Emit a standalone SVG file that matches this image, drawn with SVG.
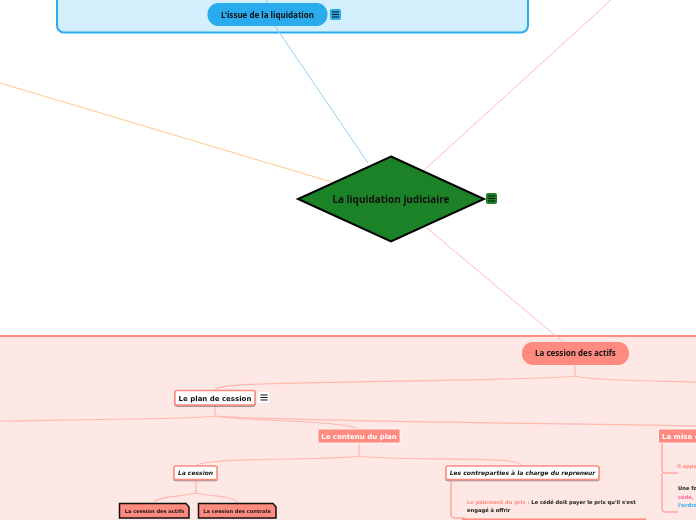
<svg xmlns="http://www.w3.org/2000/svg" width="696" height="520" viewBox="0 0 696 520">
<style>
text{font-family:"DejaVu Sans","Liberation Sans",sans-serif;font-weight:700;fill:#111;opacity:.99}
.n{font-family:"Noto Sans","DejaVu Sans",sans-serif}
.c{fill:none;stroke:#ffb9b0;stroke-width:1.2}
.m{text-anchor:middle}
.w{fill:#fff;stroke:#ff8a80;stroke-width:1.5}
.s{fill:#ff8a80;stroke:#fff;stroke-width:.8}
.t{fill:#ff8a80;stroke:#111;stroke-width:1.5}
</style>
<defs>
<filter id="sh" x="-10%" y="-20%" width="120%" height="150%"><feDropShadow dx="0" dy="1" stdDeviation=".7" flood-color="#000" flood-opacity=".45"/></filter>
<g id="bars"><path d="M-3.500-2.500h7M-3.500 0h7M-3.500 2.500h7" stroke="#111" stroke-width="1" fill="none"/></g>
</defs>
<rect id="frame-top" x="57" y="-40" width="471" height="72.500" rx="7" fill="#d4effc" stroke="#29abee" stroke-width="2"/>
<rect id="frame-bottom" x="-10" y="336" width="716" height="200" fill="#fee8e5" stroke="#ff8a80" stroke-width="2"/>
<g id="connectors">
<path d="M267 0V3" fill="none" stroke="#7fcdf5"/>
<path d="M275 26L368 163" fill="none" stroke="#8fd4f6"/>
<path d="M0 83L335 183" fill="none" stroke="#ffc98a"/>
<path d="M611 0L422 172" fill="none" stroke="#ffb8c6"/>
<path d="M427 228L563 342" fill="none" stroke="#ffb8c6"/>
<path class="c" d="M575 365V376C560 380 300 382 260 384C235 385 217 386 215 390"/>
<path class="c" d="M575 376C590 381 660 381 696 382"/>
<path class="c" d="M215 405V416C200 419 60 420 0 421"/>
<path class="c" d="M215 416C235 421 340 420 359 429"/>
<path class="c" d="M215 416C300 422 560 423 696 426"/>
<path class="c" d="M359 443V456C340 460 240 458 212 462C202 463 197 464 196 466"/>
<path class="c" d="M359 456C380 460 480 458 510 461C518 462 521 464 522 466"/>
<path class="c" d="M196 481V493C180 497 160 496 154 502"/>
<path class="c" d="M196 493C215 497 232 496 237 502"/>
<path d="M451 481V515Q451 518 454 518H465" fill="none" stroke="#ff8a80"/>
<path d="M662 443V470Q662 473 665 473H678M662 473V509Q662 512 665 512H678" fill="none" stroke="#ff8a80"/>
</g>
<g id="issue"><rect x="207.500" y="3" width="120" height="23" rx="11" fill="#29abee"/><text class="m n" x="267.500" y="18" font-size="8">L'issue de la liquidation</text></g>
<g id="issue-note"><rect x="330" y="9" width="11" height="11" rx="2" fill="#29abee"/><use href="#bars" x="335.500" y="14.500"/></g>
<g id="root"><path d="M391 156.500L484 199L391 241.500L298 199Z" fill="#1c8227" stroke="#000" stroke-width="2"/><text class="m n" x="391" y="203" font-size="10">La liquidation judiciaire</text></g>
<g id="root-note"><rect x="486" y="193" width="11" height="11" rx="2" fill="#1c8227"/><use href="#bars" x="491.500" y="198.500"/></g>
<g id="cession-actifs"><rect x="522" y="342" width="107" height="23" rx="11" fill="#ff8a80"/><text class="m n" x="575.500" y="356" font-size="8">La cession des actifs</text></g>
<g id="plan"><rect class="w" x="175" y="390.500" width="80" height="14.500" rx="2" filter="url(#sh)"/><text class="m" x="215" y="400.500" font-size="7">Le plan de cession</text></g>
<g id="plan-note"><rect x="258" y="392" width="11" height="11" fill="#fff"/><use href="#bars" x="264" y="397.500"/></g>
<g id="contenu"><rect class="s" x="318" y="429" width="82" height="14"/><text class="m" x="359" y="438.500" font-size="7" style="fill:#fff">Le contenu du plan</text></g>
<g id="mise"><rect class="s" x="658.500" y="429" width="50" height="14"/><text x="662" y="438.500" font-size="7" style="fill:#fff">La mise e</text></g>
<g id="cession"><rect class="w" x="174" y="466" width="43" height="13.500" rx="2" filter="url(#sh)"/><text class="m" x="195.500" y="475" font-size="6" font-style="italic">La cession</text></g>
<g id="contreparties"><rect class="w" x="446" y="466" width="153" height="13.500" rx="2" filter="url(#sh)"/><text class="m" x="522.500" y="475" font-size="6" font-style="italic">Les contreparties à la charge du repreneur</text></g>
<g id="actifs"><path class="t" d="M119.500 503.500H186L189 507V518H119.500Z"/><text class="m" x="154.500" y="513" font-size="5.100">La cession des actifs</text></g>
<g id="contrats"><path class="t" d="M198.500 503.500H273L276 507V518H198.500Z"/><text class="m" x="237" y="513" font-size="5.100">La cession des contrats</text></g>
<g id="prix"><text x="467" y="504" font-size="5.200"><tspan style="fill:#ff8a80">Le paiement du prix : </tspan>Le cédé doit payer le prix qu'il s'est</text><text x="467" y="512" font-size="5.200">engagé à offrir</text></g>
<g id="bar"><rect x="462" y="518.500" width="184" height="2" fill="#ff8a80"/></g>
<g id="apport"><text x="677" y="468" font-size="5.200" style="fill:#ff8a80">Il appa</text></g>
<g id="fois"><text x="678" y="490" font-size="5.200">Une fo</text><text x="678" y="499" font-size="5.200" style="fill:#ff5fa2">cédé,</text><text x="678" y="507" font-size="5.200" style="fill:#29abee">l'ordre</text></g>
</svg>
